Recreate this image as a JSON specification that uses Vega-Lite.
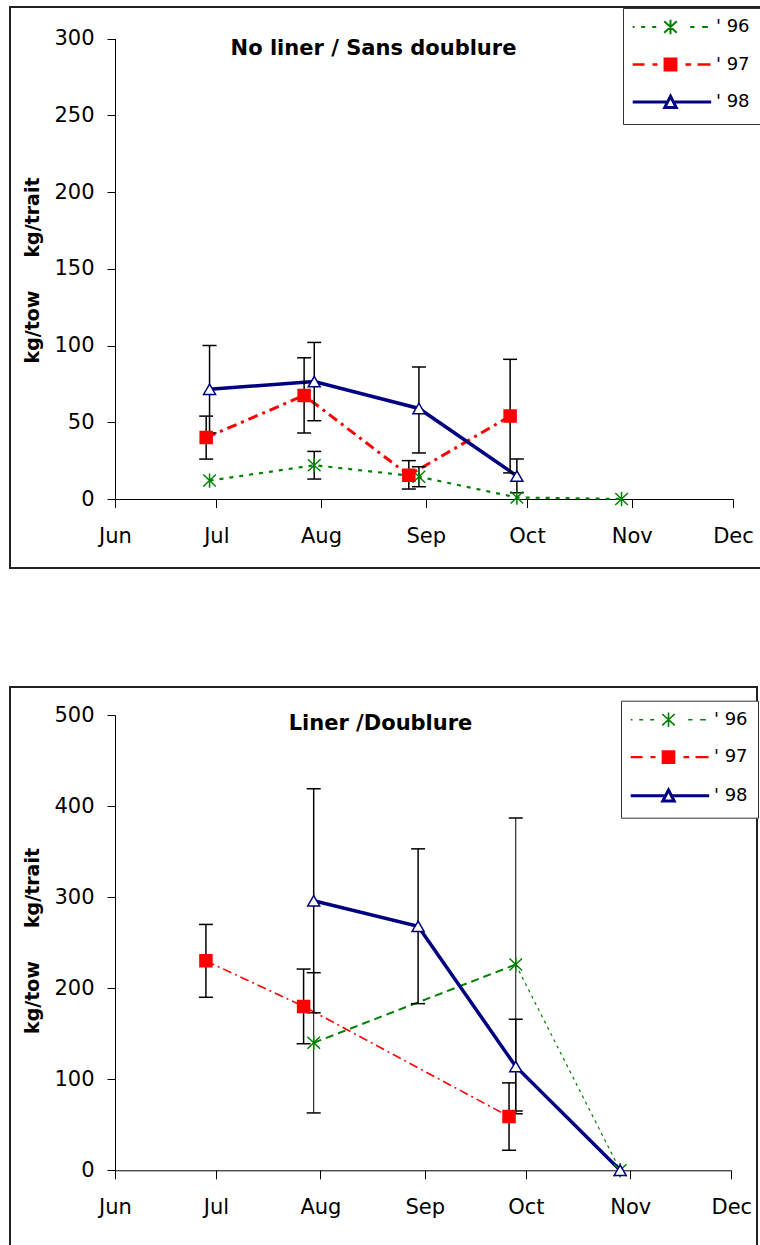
{
  "$schema": "https://vega.github.io/schema/vega-lite/v6.json",
  "padding": {"left": 9, "top": 6, "right": 0, "bottom": 0},
  "background": "white",
  "spacing": 117,
  "datasets": {
    "pts": [
      {"p": "top", "year": "' 96", "date": "1998-06-29", "value": 12},
      {"p": "top", "year": "' 96", "date": "1998-07-30", "value": 22, "lo": 13, "hi": 31},
      {"p": "top", "year": "' 96", "date": "1998-08-30", "value": 14.5, "lo": 8, "hi": 21},
      {"p": "top", "year": "' 96", "date": "1998-09-28", "value": 1},
      {"p": "top", "year": "' 96", "date": "1998-10-29", "value": 0},
      {"p": "top", "year": "' 97", "date": "1998-06-28", "value": 40, "lo": 26, "hi": 54},
      {"p": "top", "year": "' 97", "date": "1998-07-27", "value": 67.5, "lo": 43, "hi": 92},
      {"p": "top", "year": "' 97", "date": "1998-08-27", "value": 15.5, "lo": 6.5, "hi": 25},
      {"p": "top", "year": "' 97", "date": "1998-09-26", "value": 54, "lo": 17, "hi": 91},
      {"p": "top", "year": "' 98", "date": "1998-06-29", "value": 71.5, "lo": 43, "hi": 100},
      {"p": "top", "year": "' 98", "date": "1998-07-30", "value": 76.5, "lo": 51, "hi": 102},
      {"p": "top", "year": "' 98", "date": "1998-08-30", "value": 59, "lo": 30, "hi": 86},
      {"p": "top", "year": "' 98", "date": "1998-09-28", "value": 15, "lo": 4, "hi": 26},
      {"p": "bot", "year": "' 96", "date": "1998-07-30", "value": 140, "lo": 63, "hi": 217},
      {"p": "bot", "year": "' 96", "date": "1998-09-28", "value": 226, "lo": 65, "hi": 387},
      {"p": "bot", "year": "' 96", "date": "1998-10-29", "value": 0},
      {"p": "bot", "year": "' 97", "date": "1998-06-28", "value": 230, "lo": 190, "hi": 270},
      {"p": "bot", "year": "' 97", "date": "1998-07-27", "value": 180, "lo": 139, "hi": 221},
      {"p": "bot", "year": "' 97", "date": "1998-09-26", "value": 59, "lo": 22, "hi": 96},
      {"p": "bot", "year": "' 98", "date": "1998-07-30", "value": 296, "lo": 173, "hi": 419},
      {"p": "bot", "year": "' 98", "date": "1998-08-30", "value": 268, "lo": 183, "hi": 353},
      {"p": "bot", "year": "' 98", "date": "1998-09-28", "value": 114, "lo": 62, "hi": 166},
      {"p": "bot", "year": "' 98", "date": "1998-10-29", "value": 0}
    ]
  },
  "vconcat": [
    {
      "width": 752,
      "height": 561,
      "data": {"name": "pts"},
      "transform": [{"filter": {"field": "p", "equal": "top"}}],
      "title": {"text": "No liner / Sans doublure", "orient": "top", "anchor": "middle", "frame": "group", "offset": -69, "baseline": "alphabetic", "dx": -12.5, "font": "DejaVu Sans", "fontSize": 21, "fontWeight": "bold", "color": "black"},
      "encoding": {
        "x": {"field": "date", "type": "temporal",
          "scale": {"type": "utc", "domain": [896659200000, 912470400000], "range": [105, 723]},
          "axis": {"values": [896659200000, 899251200000, 901929600000, 904608000000, 907200000000, 909878400000, 912470400000],
            "format": "%b", "orient": "bottom", "offset": -69, "tickSize": 8.5, "labelPadding": 18, "title": null,
            "domain": true, "grid": false, "labelFlush": false, "labelOverlap": false, "labelBound": false,
            "encode": {"ticks": {"update": {"y": {"value": -8.5}, "y2": {"value": 8.5}}}}}},
        "y": {"field": "value", "type": "quantitative",
          "scale": {"domain": [0, 300], "range": [492, 31.5], "nice": false, "zero": false},
          "axis": {"values": [0, 50, 100, 150, 200, 250, 300], "offset": -105, "tickSize": 8, "labelPadding": 13,
            "domain": true, "grid": false, "labelFlush": false, "labelOverlap": false,
            "encode": {"ticks": {"update": {"x": {"value": 8}, "x2": {"value": -8}}}},
            "title": "kg/tow\u00a0\u00a0\u00a0\u00a0 kg/trait", "titleFont": "DejaVu Sans", "titleFontSize": 19, "titleFontWeight": "bold",
            "titleAngle": 270, "titleX": -82.5, "titleY": 263, "titleBaseline": "middle", "titleAlign": "center"}}
      },
      "layer": [
        {"transform": [{"filter": {"field": "year", "equal": "' 96"}}],
          "mark": {"type": "line", "color": "#008000", "strokeWidth": 2.2, "strokeDash": [4, 6]}},
        {"transform": [{"filter": {"field": "year", "equal": "' 97"}}],
          "mark": {"type": "line", "color": "#ff0000", "strokeWidth": 3, "strokeDash": [10, 5, 3, 5]}},
        {"transform": [{"filter": {"field": "year", "equal": "' 98"}}],
          "mark": {"type": "line", "color": "#000080", "strokeWidth": 3.5}},
        {"transform": [{"filter": {"field": "lo", "valid": true}}],
          "mark": {"type": "rule", "color": "black", "strokeWidth": 1.5},
          "encoding": {"y": {"field": "lo", "type": "quantitative"}, "y2": {"field": "hi"}}},
        {"transform": [{"filter": {"field": "lo", "valid": true}}],
          "mark": {"type": "tick", "orient": "horizontal", "size": 14, "thickness": 1.5, "color": "black", "opacity": 1},
          "encoding": {"y": {"field": "lo", "type": "quantitative"}}},
        {"transform": [{"filter": {"field": "hi", "valid": true}}],
          "mark": {"type": "tick", "orient": "horizontal", "size": 14, "thickness": 1.5, "color": "black", "opacity": 1},
          "encoding": {"y": {"field": "hi", "type": "quantitative"}}},
        {"mark": {"type": "point", "filled": true, "size": 144, "strokeWidth": 1.5, "opacity": 1},
          "encoding": {
            "shape": {"field": "year", "type": "nominal", "legend": null,
              "scale": {"domain": ["' 96", "' 97", "' 98"], "range": ["M-1.05,-1L1.05,1M-1.05,1L1.05,-1M0,-1.2V1.2", "square", "triangle-up"]}},
            "fill": {"field": "year", "type": "nominal", "legend": null,
              "scale": {"domain": ["' 96", "' 97", "' 98"], "range": ["transparent", "#ff0000", "#ffffff"]}},
            "stroke": {"field": "year", "type": "nominal", "legend": null,
              "scale": {"domain": ["' 96", "' 97", "' 98"], "range": ["#008000", "#ff0000", "#000080"]}}}},
        {"transform": [{"filter": "false"}],
          "mark": {"type": "point", "filled": true, "size": 144, "opacity": 1},
          "encoding": {
            "shape": {"field": "year", "type": "nominal",
              "scale": {"domain": ["' 96", "' 97", "' 98"], "range": [
                "M-6.3,0H-6M-4.88,0H-4.22M-3.05,0H-2.38M3.28,0H4M5.28,0H6.22M-1.05,-0.95L1.05,0.95M-1.05,0.95L1.05,-0.95M0,-1.2V1.2",
                "M-6.3,0H-4.33M-3,0H-2.17M2.5,0H3.44M4.5,0H6.67M-0.95,-0.95H0.95V0.95H-0.95Z",
                "M-6.3,0H-0.5M0.5,0H6.78M0,-0.95L0.95,0.9L-0.95,0.9Z"]},
              "legend": {"orient": "none", "legendX": 613, "legendY": 1, "title": null, "direction": "vertical", "padding": 10,
                "strokeColor": "#333", "fillColor": "white", "symbolSize": 144, "symbolOffset": 28.5, "labelOffset": 36.5,
                "labelFont": "DejaVu Sans", "labelFontSize": 18, "labelColor": "black", "rowPadding": 14.5, "labelLimit": 0}},
            "fill": {"field": "year", "type": "nominal",
              "scale": {"domain": ["' 96", "' 97", "' 98"], "range": ["transparent", "#ff0000", "#ffffff"]}},
            "stroke": {"field": "year", "type": "nominal",
              "scale": {"domain": ["' 96", "' 97", "' 98"], "range": ["#008000", "#ff0000", "#000080"]}},
            "strokeWidth": {"field": "year", "type": "nominal",
              "scale": {"domain": ["' 96", "' 97", "' 98"], "range": [2, 3]}}}}
      ],
      "resolve": {"scale": {"shape": "independent", "fill": "independent", "stroke": "independent", "strokeWidth": "independent"}}
    },
    {
      "width": 747,
      "height": 565,
      "data": {"name": "pts"},
      "transform": [{"filter": {"field": "p", "equal": "bot"}}],
      "title": {"text": "Liner /Doublure", "orient": "top", "anchor": "middle", "frame": "group", "offset": -64, "baseline": "alphabetic", "dx": -3, "font": "DejaVu Sans", "fontSize": 21, "fontWeight": "bold", "color": "black"},
      "encoding": {
        "x": {"field": "date", "type": "temporal",
          "scale": {"type": "utc", "domain": [896659200000, 912470400000], "range": [105, 721.3]},
          "axis": {"values": [896659200000, 899251200000, 901929600000, 904608000000, 907200000000, 909878400000, 912470400000],
            "format": "%b", "orient": "bottom", "offset": -81.7, "tickSize": 8.5, "labelPadding": 18, "title": null,
            "domain": true, "grid": false, "labelFlush": false, "labelOverlap": false, "labelBound": false,
            "encode": {"ticks": {"update": {"y": {"value": -8.5}, "y2": {"value": 8.5}}}}}},
        "y": {"field": "value", "type": "quantitative",
          "scale": {"domain": [0, 500], "range": [483.3, 28], "nice": false, "zero": false},
          "axis": {"values": [0, 100, 200, 300, 400, 500], "offset": -105, "tickSize": 8, "labelPadding": 13,
            "domain": true, "grid": false, "labelFlush": false, "labelOverlap": false,
            "encode": {"ticks": {"update": {"x": {"value": 8}, "x2": {"value": -8}}}},
            "title": "kg/tow\u00a0\u00a0\u00a0\u00a0 kg/trait", "titleFont": "DejaVu Sans", "titleFontSize": 19, "titleFontWeight": "bold",
            "titleAngle": 270, "titleX": -82.5, "titleY": 253.5, "titleBaseline": "middle", "titleAlign": "center"}}
      },
      "layer": [
        {"transform": [{"filter": {"field": "year", "equal": "' 96"}}, {"filter": {"field": "date", "lte": {"year": 1998, "month": 9, "date": 28, "utc": true}}}],
          "mark": {"type": "line", "color": "#008000", "strokeWidth": 2, "strokeDash": [8, 5]}},
        {"transform": [{"filter": {"field": "year", "equal": "' 96"}}, {"filter": {"field": "date", "gte": {"year": 1998, "month": 9, "date": 28, "utc": true}}}],
          "mark": {"type": "line", "color": "#008000", "strokeWidth": 1.2, "strokeDash": [3, 4]}},
        {"transform": [{"filter": {"field": "year", "equal": "' 97"}}],
          "mark": {"type": "line", "color": "#ff0000", "strokeWidth": 1.6, "strokeDash": [9, 4, 2, 4]}},
        {"transform": [{"filter": {"field": "year", "equal": "' 98"}}],
          "mark": {"type": "line", "color": "#000080", "strokeWidth": 3.5}},
        {"transform": [{"filter": {"field": "lo", "valid": true}}],
          "mark": {"type": "rule", "color": "black"},
          "encoding": {"y": {"field": "lo", "type": "quantitative"}, "y2": {"field": "hi"},
            "strokeWidth": {"condition": {"test": "datum.year === \"' 96\"", "value": 1}, "value": 1.5}}},
        {"transform": [{"filter": {"field": "lo", "valid": true}}],
          "mark": {"type": "tick", "orient": "horizontal", "size": 14, "thickness": 1.5, "color": "black", "opacity": 1},
          "encoding": {"y": {"field": "lo", "type": "quantitative"}}},
        {"transform": [{"filter": {"field": "hi", "valid": true}}],
          "mark": {"type": "tick", "orient": "horizontal", "size": 14, "thickness": 1.5, "color": "black", "opacity": 1},
          "encoding": {"y": {"field": "hi", "type": "quantitative"}}},
        {"mark": {"type": "point", "filled": true, "size": 144, "strokeWidth": 1.5, "opacity": 1},
          "encoding": {
            "shape": {"field": "year", "type": "nominal", "legend": null,
              "scale": {"domain": ["' 96", "' 97", "' 98"], "range": ["M-1.05,-1L1.05,1M-1.05,1L1.05,-1M0,-1.2V1.2", "square", "triangle-up"]}},
            "fill": {"field": "year", "type": "nominal", "legend": null,
              "scale": {"domain": ["' 96", "' 97", "' 98"], "range": ["transparent", "#ff0000", "#ffffff"]}},
            "stroke": {"field": "year", "type": "nominal", "legend": null,
              "scale": {"domain": ["' 96", "' 97", "' 98"], "range": ["#008000", "#ff0000", "#000080"]}}}},
        {"transform": [{"filter": "false"}],
          "mark": {"type": "point", "filled": true, "size": 144, "opacity": 1},
          "encoding": {
            "shape": {"field": "year", "type": "nominal",
              "scale": {"domain": ["' 96", "' 97", "' 98"], "range": [
                "M-6.3,0H-6M-4.88,0H-4.22M-3.05,0H-2.38M3.28,0H4M5.28,0H6.22M-1.05,-0.95L1.05,0.95M-1.05,0.95L1.05,-0.95M0,-1.2V1.2",
                "M-6.3,0H-4.33M-3,0H-2.17M2.5,0H3.44M4.5,0H6.67M-0.95,-0.95H0.95V0.95H-0.95Z",
                "M-6.3,0H-0.5M0.5,0H6.78M0,-0.95L0.95,0.9L-0.95,0.9Z"]},
              "legend": {"orient": "none", "legendX": 611, "legendY": 13.7, "title": null, "direction": "vertical", "padding": 10,
                "strokeColor": "#333", "fillColor": "white", "symbolSize": 144, "symbolOffset": 28.5, "labelOffset": 36.5,
                "labelFont": "DejaVu Sans", "labelFontSize": 18, "labelColor": "black", "rowPadding": 15.5, "labelLimit": 0}},
            "fill": {"field": "year", "type": "nominal",
              "scale": {"domain": ["' 96", "' 97", "' 98"], "range": ["transparent", "#ff0000", "#ffffff"]}},
            "stroke": {"field": "year", "type": "nominal",
              "scale": {"domain": ["' 96", "' 97", "' 98"], "range": ["#008000", "#ff0000", "#000080"]}},
            "strokeWidth": {"field": "year", "type": "nominal",
              "scale": {"domain": ["' 96", "' 97", "' 98"], "range": [1.6, 3]}}}}
      ],
      "resolve": {"scale": {"shape": "independent", "fill": "independent", "stroke": "independent", "strokeWidth": "independent"}}
    }
  ],
  "config": {
    "font": "DejaVu Sans",
    "view": {"stroke": "#222", "strokeWidth": 2},
    "axis": {"labelFont": "DejaVu Sans", "labelFontSize": 21, "labelColor": "black", "tickColor": "black", "tickWidth": 1, "domainColor": "black", "domainWidth": 1, "titleColor": "black"}
  }
}
